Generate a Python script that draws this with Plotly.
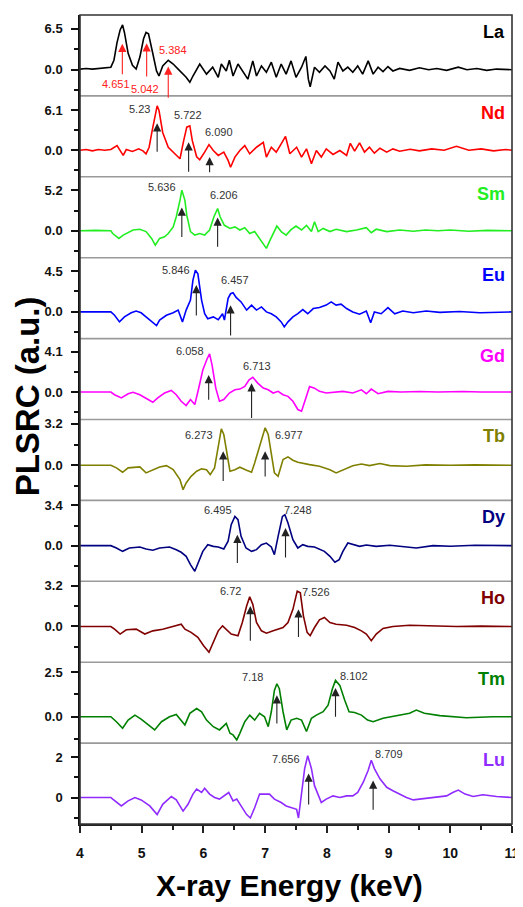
import plotly.graph_objects as go

# ---------------- data (energy keV, PLSRC) ----------------
La = [(4.0,0.1),(4.1,0.2),(4.2,0.1),(4.3,0.2),(4.4,0.3),(4.5,0.4),(4.55,1.5),(4.6,4.3),(4.65,6.3),(4.69,7.1),
      (4.72,5.9),(4.78,2.6),(4.85,0.7),(4.91,0.1),(4.97,2.0),(5.03,4.9),(5.07,5.9),(5.11,5.7),(5.17,3.0),(5.24,-0.2),
      (5.28,-1.0),(5.34,0.6),(5.43,1.5),(5.51,0.9),(5.59,0.1),(5.64,-0.4),(5.72,-1.2),(5.78,-2.0),(5.83,-1.0),(5.94,0.9),
      (5.99,0.1),(6.05,-0.7),(6.15,0.4),(6.24,-1.2),(6.29,0.9),(6.37,-0.2),(6.42,1.5),(6.48,-1.0),(6.56,0.9),(6.64,-0.4),
      (6.72,-1.5),(6.80,1.4),(6.86,-1.0),(6.94,0.6),(7.02,-0.4),(7.10,1.2),(7.18,-1.2),(7.26,0.9),(7.34,-0.7),(7.42,1.4),
      (7.50,-1.2),(7.59,0.4),(7.66,2.1),(7.70,-1.5),(7.73,-2.7),(7.80,0.4),(7.88,-0.4),(7.97,0.6),(8.05,-0.2),(8.12,-1.5),
      (8.18,1.2),(8.26,-0.2),(8.34,0.4),(8.42,-0.4),(8.50,0.6),(8.58,-0.7),(8.67,1.4),(8.75,-0.7),(8.83,0.4),(8.91,-0.3),
      (8.99,0.5),(9.07,-0.2),(9.18,0.2),(9.34,-0.1),(9.50,0.3),(9.65,0.0),(9.78,0.2),(9.94,-0.1),(10.13,0.4),(10.27,0.0),
      (10.43,0.2),(10.59,-0.1),(10.75,0.1),(11.0,0.0)]

Nd = [(4.0,0),(4.1,0.1),(4.2,-0.1),(4.3,0.1),(4.4,0),(4.5,0.1),(4.6,0.7),(4.66,-0.2),(4.70,-0.8),(4.75,0.1),
      (4.85,-0.2),(4.95,0.2),(5.02,-0.1),(5.07,-0.55),(5.12,0.45),(5.17,3.0),(5.23,5.7),(5.25,6.75),(5.28,6.05),(5.34,2.7),
      (5.43,0.45),(5.51,-0.3),(5.62,-1.3),(5.68,1.45),(5.73,3.5),(5.78,3.7),(5.82,1.45),(5.89,-1.0),(5.94,-1.45),(6.02,-0.3),
      (6.09,0.85),(6.16,-0.05),(6.24,-0.8),(6.33,-0.3),(6.40,-1.55),(6.44,-2.6),(6.51,-1.05),(6.59,-0.05),(6.67,0.7),(6.75,-0.55),
      (6.86,0.45),(6.97,1.2),(7.02,-1.05),(7.10,0.45),(7.18,-0.3),(7.26,0.95),(7.33,2.1),(7.40,-0.55),(7.51,0.45),(7.59,-1.05),
      (7.67,0.2),(7.75,-2.05),(7.83,-0.05),(7.91,-1.05),(7.99,0.2),(8.10,-0.65),(8.21,-0.05),(8.32,-0.8),(8.38,1.05),(8.45,-0.15),
      (8.53,1.1),(8.61,-0.3),(8.69,0.45),(8.77,-0.45),(8.86,0.3),(8.97,-0.3),(9.07,0.2),(9.18,-0.15),(9.35,0.15),(9.5,-0.1),
      (9.7,0.2),(9.9,0.0),(10.1,0.6),(10.3,0.0),(10.5,0.2),(10.7,-0.1),(10.9,0.1),(11.0,0.0)]

Sm = [(4.0,0),(4.25,0.05),(4.5,0),(4.53,-0.35),(4.63,-0.98),(4.70,-0.55),(4.86,0.1),(4.97,0.2),(5.07,-0.1),(5.16,-0.98),
      (5.22,-1.85),(5.29,-0.98),(5.37,-0.77),(5.43,-0.35),(5.51,0.5),(5.56,1.8),(5.62,3.9),(5.65,5.2),(5.70,3.9),(5.73,2.0),
      (5.79,-0.1),(5.86,-0.55),(5.94,-0.35),(6.02,-0.55),(6.10,0.1),(6.17,1.8),(6.23,2.85),(6.27,1.8),(6.34,0.7),(6.43,0.3),
      (6.51,0.5),(6.59,0.1),(6.67,0.4),(6.75,-0.35),(6.83,-0.1),(6.91,-0.98),(6.97,-1.6),(7.02,-2.25),(7.08,-1.2),(7.15,0.1),
      (7.19,0.6),(7.26,-0.1),(7.34,-0.55),(7.42,0.15),(7.50,0.6),(7.59,0.1),(7.67,0.7),(7.75,-0.1),(7.80,1.15),(7.86,-0.1),
      (7.94,0.3),(8.05,-0.1),(8.15,0.2),(8.32,-0.1),(8.48,0.1),(8.64,0.4),(8.72,-0.25),(8.80,0.2),(8.97,-0.1),(9.18,0.1),
      (9.4,-0.05),(9.6,0.1),(9.8,0.0),(10.0,0.1),(10.3,-0.05),(10.6,0.05),(11.0,0.0)]

Eu = [(4.0,0),(4.3,0),(4.5,0),(4.56,-0.37),(4.64,-1.1),(4.72,-0.55),(4.83,-0.1),(4.91,0.1),(4.99,-0.1),(5.07,-0.55),
      (5.16,-1.1),(5.24,-1.5),(5.29,-0.9),(5.40,-0.37),(5.51,-0.1),(5.59,0.2),(5.66,-1.1),(5.72,0.2),(5.79,1.3),(5.83,3.5),
      (5.87,4.6),(5.91,4.2),(5.97,1.3),(6.02,-0.2),(6.07,-0.75),(6.16,-0.55),(6.24,-0.85),(6.31,-0.2),(6.34,-0.9),(6.40,1.5),
      (6.44,2.0),(6.48,2.1),(6.53,1.6),(6.61,1.1),(6.70,0.2),(6.78,0.75),(6.86,0.2),(6.94,0.55),(7.02,0.0),(7.10,-0.2),
      (7.18,-0.55),(7.26,-1.1),(7.31,-1.65),(7.37,-1.1),(7.45,-0.55),(7.53,-0.2),(7.61,0.25),(7.69,-0.2),(7.78,0.37),(7.88,0.48),
      (7.99,0.75),(8.07,1.1),(8.15,0.75),(8.23,0.85),(8.32,0.37),(8.42,0.0),(8.53,-0.25),(8.64,0.1),(8.71,-1.2),(8.77,0.0),
      (8.88,-0.2),(8.99,0.48),(9.10,-0.2),(9.23,0.1),(9.40,-0.1),(9.61,0.1),(9.83,-0.05),(10.15,0.05),(10.48,-0.1),(11.0,0.0)]

Gd = [(4.0,0),(4.3,0),(4.5,0),(4.56,-0.27),(4.67,-0.6),(4.78,-0.17),(4.86,-0.03),(4.97,-0.27),(5.07,-0.6),(5.18,-1.04),
      (5.26,-0.6),(5.37,-0.1),(5.48,0.17),(5.56,-0.27),(5.64,-0.94),(5.72,-1.38),(5.79,-0.77),(5.86,-1.28),(5.93,0.57),(5.99,2.25),
      (6.06,3.4),(6.10,3.9),(6.14,2.75),(6.20,0.4),(6.26,-0.94),(6.33,-0.77),(6.42,-0.1),(6.51,0.23),(6.59,0.3),(6.67,0.57),
      (6.74,1.24),(6.80,1.51),(6.88,0.91),(6.97,0.4),(7.05,0.23),(7.13,-0.1),(7.21,0.07),(7.29,-0.27),(7.37,-0.44),(7.45,-0.94),
      (7.53,-1.78),(7.59,-1.95),(7.66,-0.6),(7.72,0.57),(7.80,0.4),(7.88,0.07),(7.99,-0.1),(8.10,0.0),(8.26,0.07),(8.42,-0.1),
      (8.56,0.23),(8.64,-0.17),(8.72,0.3),(8.83,-0.17),(8.99,0.07),(9.2,0.0),(9.5,0.05),(9.8,0.0),(10.2,0.05),(10.5,0.0),(11.0,0.0)]

Tb = [(4.0,0),(4.3,0),(4.5,0),(4.59,-0.2),(4.69,-0.54),(4.78,-0.2),(4.97,-0.13),(5.07,-0.59),(5.18,-0.34),(5.29,-0.13),
      (5.40,-0.03),(5.51,-0.34),(5.62,-1.11),(5.67,-1.88),(5.72,-1.37),(5.80,-0.85),(5.89,-0.46),(5.97,-0.28),(6.05,-0.34),(6.11,-0.72),
      (6.18,-0.2),(6.24,1.47),(6.29,2.81),(6.33,2.37),(6.38,0.83),(6.43,-0.46),(6.51,-0.34),(6.59,-0.15),(6.70,-0.39),(6.78,-0.54),
      (6.83,0.18),(6.91,1.47),(7.00,2.89),(7.05,2.37),(7.10,0.95),(7.15,-0.59),(7.21,-0.85),(7.29,0.44),(7.37,0.65),(7.45,0.39),
      (7.53,0.23),(7.61,0.13),(7.72,0.05),(7.88,-0.08),(8.05,-0.34),(8.15,-0.59),(8.26,-0.34),(8.42,-0.03),(8.56,0.1),(8.69,-0.03),
      (8.86,0.13),(9.02,-0.03),(9.29,-0.08),(9.6,0.03),(10.0,0.0),(10.4,0.03),(11.0,0.0)]

Dy = [(4.0,0),(4.3,0),(4.5,0),(4.59,-0.2),(4.69,-0.48),(4.80,-0.2),(4.97,-0.11),(5.07,-0.28),(5.18,-0.39),(5.29,-0.2),
      (5.45,-0.11),(5.56,-0.34),(5.64,-0.56),(5.72,-0.9),(5.79,-1.6),(5.86,-2.16),(5.91,-1.46),(5.99,-0.48),(6.07,0.08),(6.16,-0.06),
      (6.24,-0.11),(6.33,-0.28),(6.40,0.37),(6.45,1.77),(6.51,2.47),(6.56,2.19),(6.61,0.79),(6.69,-0.2),(6.78,-0.48),(6.86,-0.34),
      (6.94,0.08),(7.02,0.22),(7.10,-0.11),(7.15,-0.76),(7.21,0.79),(7.28,2.47),(7.32,2.61),(7.37,1.91),(7.45,0.51),(7.53,-0.2),
      (7.61,0.08),(7.69,-0.06),(7.80,-0.11),(7.88,-0.28),(7.96,-0.48),(8.05,-0.9),(8.13,-1.4),(8.20,-1.18),(8.26,-0.48),(8.34,0.22),
      (8.42,0.08),(8.53,-0.06),(8.64,0.06),(8.80,-0.06),(9.02,0.03),(9.2,-0.05),(9.45,-0.2),(9.72,0.0),(10.0,-0.05),(10.4,0.03),(11.0,0.0)]

Ho = [(4.0,0),(4.3,0),(4.5,0),(4.56,-0.21),(4.65,-0.59),(4.75,-0.26),(4.91,-0.21),(5.05,-0.59),(5.18,-0.34),(5.34,-0.21),
      (5.51,0.0),(5.64,0.18),(5.70,-0.21),(5.80,-0.46),(5.91,-0.85),(6.00,-1.49),(6.09,-2.01),(6.16,-1.24),(6.24,-0.34),(6.31,0.05),
      (6.37,-0.21),(6.45,-0.59),(6.56,-0.72),(6.63,0.31),(6.70,1.6),(6.75,2.32),(6.80,1.73),(6.86,0.31),(6.94,-0.34),(7.02,-0.52),
      (7.13,-0.34),(7.21,-0.21),(7.29,-0.08),(7.37,0.31),(7.45,1.34),(7.52,2.76),(7.57,2.63),(7.62,0.83),(7.68,-0.46),(7.73,-0.72),
      (7.80,-0.08),(7.88,0.52),(7.96,0.7),(8.05,0.31),(8.15,0.18),(8.32,0.1),(8.45,-0.08),(8.56,-0.34),(8.64,-0.59),(8.72,-1.11),
      (8.80,-0.59),(8.91,-0.15),(9.07,0.0),(9.34,0.1),(9.72,0.05),(10.1,0.0),(10.5,0.03),(11.0,0.0)]

Tm = [(4.0,0),(4.3,0),(4.5,0),(4.59,-0.28),(4.69,-0.65),(4.78,-0.19),(4.89,0.09),(4.99,-0.13),(5.10,-0.46),(5.21,-0.74),
      (5.32,-0.28),(5.45,0.0),(5.56,0.13),(5.64,-0.19),(5.70,-0.46),(5.78,0.19),(5.89,0.46),(5.97,0.28),(6.05,-0.19),(6.16,-0.56),
      (6.26,-0.74),(6.37,-0.37),(6.43,-0.93),(6.48,-1.02),(6.54,-1.3),(6.59,-0.93),(6.67,-0.28),(6.75,0.09),(6.83,-0.19),(6.91,0.19),
      (6.99,0.0),(7.05,-0.56),(7.10,0.28),(7.15,1.48),(7.19,1.85),(7.23,1.57),(7.29,0.28),(7.35,-0.74),(7.42,-0.19),(7.51,-0.09),
      (7.59,-0.19),(7.67,-0.83),(7.75,-0.09),(7.83,0.09),(7.94,0.28),(8.02,0.65),(8.09,1.57),(8.14,2.04),(8.21,1.76),(8.29,0.93),
      (8.36,0.28),(8.45,0.24),(8.56,0.09),(8.66,-0.19),(8.75,-0.28),(8.91,-0.09),(9.18,0.06),(9.34,0.19),(9.45,0.37),(9.58,0.19),
      (9.83,0.06),(10.26,-0.06),(10.69,0.0),(11.0,0.0)]

Lu = [(4.0,0),(4.3,0),(4.5,0),(4.53,-0.08),(4.67,-0.42),(4.78,-0.17),(4.89,0.0),(4.99,-0.12),(5.13,-0.42),(5.25,-0.85),
      (5.34,-0.34),(5.48,0.05),(5.56,-0.12),(5.67,-0.68),(5.75,-0.34),(5.83,0.17),(5.89,0.42),(5.97,0.25),(6.02,0.46),(6.10,0.17),
      (6.18,0.0),(6.26,-0.08),(6.34,0.08),(6.41,0.25),(6.48,-0.17),(6.54,-0.08),(6.61,-0.42),(6.70,-0.85),(6.76,-1.02),(6.83,-0.51),
      (6.91,0.17),(6.99,0.17),(7.07,0.17),(7.15,-0.08),(7.26,-0.25),(7.34,-0.42),(7.42,-0.51),(7.51,-0.59),(7.54,-1.02),(7.59,0.25),
      (7.64,1.44),(7.69,2.08),(7.75,1.44),(7.80,0.59),(7.86,0.08),(7.91,-0.25),(7.99,-0.08),(8.10,0.08),(8.21,0.0),(8.32,0.08),
      (8.42,0.08),(8.50,0.25),(8.59,0.76),(8.67,1.36),(8.72,1.86),(8.77,1.44),(8.86,0.93),(8.97,0.51),(9.07,0.34),(9.18,0.17),
      (9.29,0.0),(9.40,-0.12),(9.56,-0.05),(9.72,0.0),(9.94,0.08),(10.04,0.25),(10.13,0.37),(10.24,0.17),(10.37,0.05),(10.53,0.14),
      (10.75,0.05),(11.0,0.0)]

elements = ["La", "Nd", "Sm", "Eu", "Gd", "Tb", "Dy", "Ho", "Tm", "Lu"]
spectra = [La, Nd, Sm, Eu, Gd, Tb, Dy, Ho, Tm, Lu]
colors = ["#000000", "#ff0000", "#22ee22", "#0000ff", "#ff00ff",
          "#808000", "#000080", "#800000", "#008000", "#8f2bff"]
major_tick = [6.5, 6.1, 5.2, 4.5, 4.1, 3.2, 3.4, 3.2, 2.5, 2]
major_text = ["6.5", "6.1", "5.2", "4.5", "4.1", "3.2", "3.4", "3.2", "2.5", "2"]
zero_text = ["0.0"] * 9 + ["0"]
y_ranges = [[-4.15, 8.67], [-4.05, 8.26], [-3.45, 6.92], [-2.94, 5.97], [-2.80, 5.45],
            [-2.71, 3.53], [-3.01, 3.82], [-2.79, 3.53], [-1.48, 3.06], [-1.32, 2.71]]

# peak markers: (arrow x, head y, tail y, label, label x, label y)
peaks = {
    "La": [(4.686, 4.1, -0.96, "4.651", 4.58, -2.3), (5.08, 4.2, -1.33, "5.042", 5.06, -3.1),
           (5.43, 0.5, -4.7, "5.384", 5.51, 3.1)],
    "Nd": [(5.25, 4.1, -0.45, "5.23", 4.96, 6.25), (5.76, 1.2, -3.5, "5.722", 5.75, 5.35),
           (6.10, -1.05, -3.6, "6.090", 6.25, 2.8)],
    "Sm": [(5.65, 3.0, -1.0, "5.636", 5.33, 5.6), (6.23, 1.7, -2.25, "6.206", 6.34, 4.55)],
    "Eu": [(5.885, 2.95, -0.55, "5.846", 5.55, 4.6), (6.44, 0.74, -2.77, "6.457", 6.51, 3.5)],
    "Gd": [(6.085, 1.75, -0.94, "6.058", 5.79, 4.17), (6.78, 0.9, -2.8, "6.713", 6.86, 2.65)],
    "Tb": [(6.32, 1.08, -1.32, "6.273", 5.93, 2.37), (7.00, 1.08, -0.98, "6.977", 7.39, 2.37)],
    "Dy": [(6.55, 0.93, -1.6, "6.495", 6.24, 2.98), (7.33, 1.49, -1.12, "7.248", 7.54, 2.98)],
    "Ho": [(6.76, 1.6, -1.24, "6.72", 6.44, 2.76), (7.54, 1.34, -0.93, "7.526", 7.83, 2.68)],
    "Tm": [(7.19, 1.2, -0.46, "7.18", 6.79, 2.22), (8.14, 1.61, -0.09, "8.102", 8.44, 2.26)],
    "Lu": [(7.705, 1.19, -0.42, "7.656", 7.33, 1.9), (8.75, 0.85, -0.68, "8.709", 9.0, 2.15)],
}

FONT = "Liberation Sans"
n = len(elements)
fig = go.Figure()
annotations = []
shapes = []
layout = {}

for i, (el, spec, col) in enumerate(zip(elements, spectra, colors)):
    k = i + 1
    xa = "x" if k == 1 else f"x{k}"
    ya = "y" if k == 1 else f"y{k}"
    xs = [p[0] for p in spec]
    ys = [p[1] for p in spec]
    fig.add_trace(go.Scatter(x=xs, y=ys, mode="lines", line=dict(color=col, width=1.6),
                             xaxis=xa, yaxis=ya, showlegend=False, hoverinfo="skip"))
    dom = [1 - (i + 1) / n, 1 - i / n]
    bottom = (i == n - 1)
    xkey = "xaxis" if k == 1 else f"xaxis{k}"
    ykey = "yaxis" if k == 1 else f"yaxis{k}"
    xdict = dict(domain=[0, 1], range=[4, 11], anchor=ya, showgrid=False, zeroline=False,
                 showticklabels=bottom, fixedrange=True, automargin=False)
    if bottom:
        xdict.update(showline=True, linecolor="#222", linewidth=1.5, ticks="outside",
                     tickvals=list(range(4, 12)), ticklen=7, tickwidth=1.5, tickcolor="#222",
                     ticklabelstandoff=8,
                     tickfont=dict(family=FONT, size=14, color="#111", weight="bold"),
                     minor=dict(tickmode="array", tickvals=[4.5 + j for j in range(7)],
                                ticks="outside", ticklen=4, tickwidth=1.5, tickcolor="#222"))
    else:
        xdict.update(showline=False, ticks="")
    layout[xkey] = xdict
    half = major_tick[i] / 2
    layout[ykey] = dict(domain=dom, range=y_ranges[i], anchor=xa, showgrid=False, zeroline=False,
                        showline=True, linecolor="#111", linewidth=1.5, automargin=False,
                        tickmode="array", tickvals=[0, major_tick[i]],
                        ticktext=[zero_text[i], major_text[i]],
                        ticks="outside", ticklen=7, tickwidth=1.5, tickcolor="#111",
                        ticklabelstandoff=6,
                        tickfont=dict(family=FONT, size=13, color="#111", weight="bold"),
                        minor=dict(tickmode="array", tickvals=[-half, half],
                                   ticks="outside", ticklen=4, tickwidth=1.5, tickcolor="#111"),
                        fixedrange=True)
    # element label
    annotations.append(dict(text=el, xref="paper", yref=f"{ya} domain", x=0.988, y=0.79,
                            xanchor="right", yanchor="middle", showarrow=False,
                            font=dict(family=FONT, size=18, color=col, weight="bold")))
    # peak arrows and labels
    acol = "#ff2020" if el == "La" else "#222222"
    tcol = "#ff2020" if el == "La" else "#333333"
    for (px, hy, ty, lab, lx, ly) in peaks[el]:
        annotations.append(dict(x=px, y=hy, ax=px, ay=ty, xref=xa, yref=ya, axref=xa, ayref=ya,
                                text="", showarrow=True, arrowhead=2, arrowsize=1.5,
                                arrowwidth=1.1, arrowcolor=acol))
        annotations.append(dict(x=lx, y=ly, xref=xa, yref=ya, text=lab, showarrow=False,
                                xanchor="center", yanchor="middle",
                                font=dict(family=FONT, size=11, color=tcol)))
    # panel separator
    if i > 0:
        shapes.append(dict(type="line", xref="paper", yref="paper", x0=0, x1=1,
                           y0=1 - i / n, y1=1 - i / n, line=dict(color="#9a9a9a", width=1.6)))

# outer frame
shapes.append(dict(type="rect", xref="paper", yref="paper", x0=0, x1=1, y0=0, y1=1,
                   line=dict(color="#333333", width=1.6)))

# axis titles
annotations.append(dict(text="PLSRC (a.u.)", xref="paper", yref="paper", x=-0.122, y=0.529,
                        textangle=-90, showarrow=False, xanchor="center", yanchor="middle",
                        font=dict(family=FONT, size=33, color="#000", weight="bold")))
annotations.append(dict(text="X-ray Energy (keV)", xref="paper", yref="paper", x=0.485, y=-0.076,
                        showarrow=False, xanchor="center", yanchor="middle",
                        font=dict(family=FONT, size=30, color="#000", weight="bold")))

fig.update_layout(**layout)
# page body has an 8px default margin, so the figure margins are reduced to keep the
# plot area at the same place on screen as in the reference
fig.update_layout(width=523, height=907, margin=dict(l=72, r=19, t=7, b=91, autoexpand=False),
                  paper_bgcolor="white", plot_bgcolor="white",
                  font=dict(family=FONT), annotations=annotations, shapes=shapes,
                  showlegend=False)

fig.write_html("out.html")
